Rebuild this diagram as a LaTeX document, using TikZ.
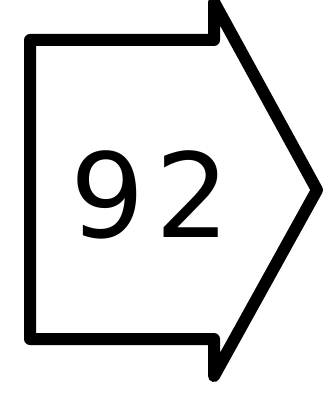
\documentclass[tikz,border=0pt]{standalone}
\usepackage{fontspec}
\setmainfont{DejaVu Sans}
\usepackage{tikz}
\usetikzlibrary{positioning}

\begin{document}
\begin{tikzpicture}[x=1pt,y=-1pt,line width=12pt,line join=round]
\useasboundingbox (0,0) rectangle (325,403);
\draw (30,40) -- (214,40) -- (214,2) -- (317,190) -- (214,376) -- (214,339) -- (30,339) -- cycle;
\node[inner sep=0pt] (num) at (150,195) {\fontsize{117}{117}\selectfont 9\kern11pt 2};
\end{tikzpicture}
\end{document}
